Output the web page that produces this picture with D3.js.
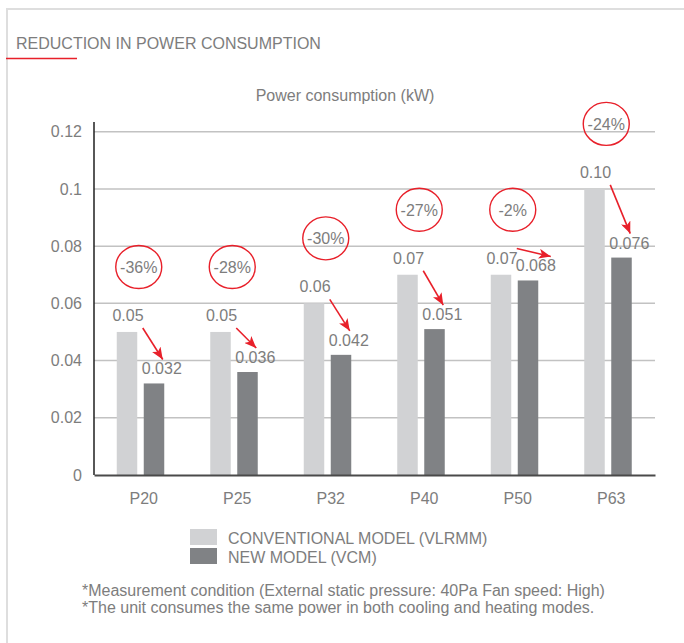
<!DOCTYPE html>
<html>
<head>
<meta charset="utf-8">
<script src="https://cdn.jsdelivr.net/npm/d3@7"></script>
<style>
  body { margin: 0; background: #fff; }
  text { font-family: "Liberation Sans", Arial, sans-serif; fill: #7d7d7d; }
</style>
</head>
<body>
<div id="chart"></div>
<script>
var categories = ["P20", "P25", "P32", "P40", "P50", "P63"];
var conventional = [0.05, 0.05, 0.06, 0.07, 0.07, 0.10];
var newModel = [0.032, 0.036, 0.042, 0.051, 0.068, 0.076];
var conventionalLabels = ["0.05", "0.05", "0.06", "0.07", "0.07", "0.10"];
var newModelLabels = ["0.032", "0.036", "0.042", "0.051", "0.068", "0.076"];
var reductions = ["-36%", "-28%", "-30%", "-27%", "-2%", "-24%"];
var yTicks = [0, 0.02, 0.04, 0.06, 0.08, 0.1, 0.12];
var seriesNames = ["CONVENTIONAL MODEL (VLRMM)", "NEW MODEL (VCM)"];
var notes = [
    "*Measurement condition (External static pressure: 40Pa Fan speed: High)",
    "*The unit consumes the same power in both cooling and heating modes."
];

var width = 684, height = 643;
var red = "#e8202a",
    lightBar = "#d1d2d4",
    darkBar = "#808285";

var svg = d3.select("#chart").append("svg")
    .attr("width", width)
    .attr("height", height);

// frame + heading
svg.append("path")
    .attr("d", "M7," + height + "V9H" + width)
    .attr("fill", "none")
    .attr("stroke", "#dedede")
    .attr("stroke-width", 2);

svg.append("text")
    .attr("x", 16)
    .attr("y", 49)
    .attr("font-size", "16px")
    .text("REDUCTION IN POWER CONSUMPTION");

svg.append("line")
    .attr("x1", 6).attr("x2", 77)
    .attr("y1", 58.5).attr("y2", 58.5)
    .attr("stroke", red)
    .attr("stroke-width", 1.3);

svg.append("text")
    .attr("x", 345)
    .attr("y", 101)
    .attr("text-anchor", "middle")
    .attr("font-size", "16px")
    .text("Power consumption (kW)");

// scales
var x = d3.scaleBand().domain(categories).range([94, 655]);
var y = d3.scaleLinear().domain([0, 0.12]).range([475, 131.7]);
var barW = 20.5;

function convX(i) { return x(categories[i]) + x.bandwidth() / 2 - 24; }
function newX(i) { return x(categories[i]) + x.bandwidth() / 2 + 3; }

// gridlines
svg.append("g")
    .selectAll("line")
    .data(yTicks.filter(function (d) { return d > 0; }))
    .enter().append("line")
    .attr("x1", 94).attr("x2", 655)
    .attr("y1", function (d) { return y(d); })
    .attr("y2", function (d) { return y(d); })
    .attr("stroke", "#c2c2c2")
    .attr("stroke-width", 1.5);

// y axis
var yAxis = svg.append("g")
    .attr("transform", "translate(94,0)")
    .call(d3.axisLeft(y).tickValues(yTicks).tickSize(0).tickPadding(12)
        .tickFormat(function (d) { return String(d); }));
yAxis.select(".domain").remove();
yAxis.selectAll("text")
    .attr("font-size", "16px")
    .attr("font-family", null)
    .attr("fill", null);

svg.append("line")
    .attr("x1", 94).attr("x2", 94)
    .attr("y1", 122).attr("y2", 475)
    .attr("stroke", "#1f1f1f")
    .attr("stroke-width", 1.5);

// bars
svg.append("g")
    .selectAll("rect")
    .data(conventional)
    .enter().append("rect")
    .attr("x", function (d, i) { return convX(i); })
    .attr("y", function (d) { return y(d); })
    .attr("width", barW)
    .attr("height", function (d) { return y(0) - y(d); })
    .attr("fill", lightBar);

svg.append("g")
    .selectAll("rect")
    .data(newModel)
    .enter().append("rect")
    .attr("x", function (d, i) { return newX(i); })
    .attr("y", function (d) { return y(d); })
    .attr("width", barW)
    .attr("height", function (d) { return y(0) - y(d); })
    .attr("fill", darkBar);

// x axis
var xAxis = svg.append("g")
    .attr("transform", "translate(0,475)")
    .call(d3.axisBottom(x).tickSize(0).tickPadding(18));
xAxis.select(".domain")
    .attr("stroke", "#4a4a4a")
    .attr("stroke-width", 1.8);
xAxis.selectAll("text")
    .attr("font-size", "16px")
    .attr("font-family", null)
    .attr("fill", null)
    .attr("dx", 3);

// value labels
svg.append("g")
    .selectAll("text")
    .data(conventional)
    .enter().append("text")
    .attr("x", function (d, i) { return convX(i) + barW / 2 + 1; })
    .attr("y", function (d) { return y(d) - 11; })
    .attr("text-anchor", "middle")
    .attr("font-size", "16px")
    .text(function (d, i) { return conventionalLabels[i]; });

svg.append("g")
    .selectAll("text")
    .data(newModel)
    .enter().append("text")
    .attr("x", function (d, i) { return newX(i) - 2; })
    .attr("y", function (d) { return y(d) - 9; })
    .attr("font-size", "16px")
    .text(function (d, i) { return newModelLabels[i]; });

// arrows
svg.append("defs").append("marker")
    .attr("id", "head")
    .attr("viewBox", "0 0 12 10")
    .attr("refX", 12).attr("refY", 5)
    .attr("markerWidth", 12).attr("markerHeight", 10)
    .attr("markerUnits", "userSpaceOnUse")
    .attr("orient", "auto")
    .append("path")
    .attr("d", "M0,0L12,5L0,10L3,5Z")
    .attr("fill", red);

svg.append("g")
    .selectAll("line")
    .data(newModel)
    .enter().append("line")
    .each(function (d, i) {
        var y0 = Math.min(y(conventional[i]) - 4, y(d) - 32),
            y1 = y(d) - 24,
            dx = (y1 - y0) < 20 ? 34 : 20;
        d3.select(this)
            .attr("x1", newX(i) - 1).attr("y1", y0)
            .attr("x2", newX(i) - 1 + dx).attr("y2", y1);
    })
    .attr("stroke", red)
    .attr("stroke-width", 1.6)
    .attr("marker-end", "url(#head)");

// reduction badges
var badge = svg.append("g")
    .selectAll("g")
    .data(reductions)
    .enter().append("g")
    .attr("transform", function (d, i) {
        return "translate(" + (x(categories[i]) + x.bandwidth() / 2 - 2) + "," +
            (y(conventional[i]) - 65) + ")";
    });

badge.append("ellipse")
    .attr("rx", 23).attr("ry", 21.5)
    .attr("fill", "none")
    .attr("stroke", red)
    .attr("stroke-width", 1.4);

badge.append("text")
    .attr("text-anchor", "middle")
    .attr("dy", "0.36em")
    .attr("font-size", "16px")
    .text(function (d) { return d; });

// legend
var legend = svg.append("g")
    .selectAll("g")
    .data(seriesNames)
    .enter().append("g")
    .attr("transform", function (d, i) { return "translate(190," + (529 + i * 19) + ")"; });

legend.append("rect")
    .attr("width", 27).attr("height", 16)
    .attr("fill", function (d, i) { return i === 0 ? lightBar : darkBar; });

legend.append("text")
    .attr("x", 38).attr("y", 15)
    .attr("font-size", "16px")
    .text(function (d) { return d; });

// footnotes
svg.append("g")
    .selectAll("text")
    .data(notes)
    .enter().append("text")
    .attr("x", 82)
    .attr("y", function (d, i) { return 596 + i * 17; })
    .attr("font-size", "16px")
    .text(function (d) { return d; });
</script>
</body>
</html>
